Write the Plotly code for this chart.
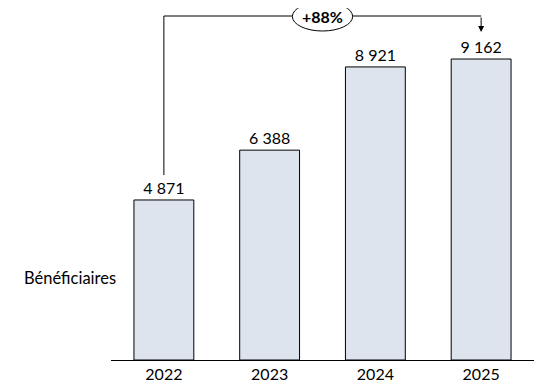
import plotly.graph_objects as go

years = ["2022", "2023", "2024", "2025"]
beneficiaires = [4871, 6388, 8921, 9162]
series_name = "Bénéficiaires"

FONT = "Lato"
PLOT_H = 352
ymax = 10715
fill = "#DDE4EE"

labels = [f"{v:,}".replace(",", " ") for v in beneficiaires]
growth = round((beneficiaires[-1] / beneficiaires[0] - 1) * 100)

def py(px):  # plot-area pixel from top -> data y
    return ymax * (1 - px / PLOT_H)

fig = go.Figure()
fig.add_trace(go.Bar(
    x=list(range(len(years))), y=beneficiaires,
    marker=dict(color=fill, line=dict(color="#000000", width=1)),
    width=0.566,
    text=labels, textposition="outside", cliponaxis=False,
    textfont=dict(family=FONT, size=16, color="#000000"),
    hoverinfo="skip",
))

top_y = py(8)
left_bottom = beneficiaires[0] + 760
tip_y = beneficiaires[-1] + 820
x_first, x_last = 0, len(years) - 1

fig.add_shape(type="line", x0=x_first, x1=x_first, y0=left_bottom, y1=top_y,
              xref="x", yref="y", line=dict(color="#000", width=1))
fig.add_shape(type="line", x0=x_first, x1=x_last, y0=top_y, y1=top_y,
              xref="x", yref="y", line=dict(color="#000", width=1))
fig.add_annotation(x=x_last, y=tip_y, ax=x_last, ay=top_y, xref="x", yref="y",
                   axref="x", ayref="y", text="", showarrow=True,
                   arrowhead=2, arrowsize=1.2, arrowwidth=1, arrowcolor="#000",
                   standoff=0, startstandoff=0)

mid = (len(years) - 1) / 2
fig.add_shape(type="circle", x0=mid - 0.285, x1=mid + 0.285,
              y0=py(23), y1=py(-6),
              xref="x", yref="y", line=dict(color="#000", width=1),
              fillcolor="#FFFFFF")
fig.add_annotation(x=mid, y=top_y, xref="x", yref="y", text=f"<b>+{growth}%</b>",
                   showarrow=False, font=dict(family=FONT, size=16, color="#000"))

fig.add_annotation(x=(62 - 103) / 423, y=(352 - 270) / 352, xref="paper", yref="paper",
                   text=series_name, showarrow=False, xanchor="center", yanchor="middle",
                   font=dict(family=FONT, size=16.5, color="#000"))

fig.update_layout(
    width=541, height=383,
    margin=dict(l=103, r=15, t=0, b=31, autoexpand=False),
    paper_bgcolor="#FFFFFF", plot_bgcolor="#FFFFFF",
    showlegend=False,
    xaxis=dict(range=[-0.5, len(years) - 0.5], tickmode="array",
               tickvals=list(range(len(years))), ticktext=years,
               showline=True, linecolor="#000", linewidth=1, showgrid=False,
               zeroline=False, ticks="", tickfont=dict(family=FONT, size=16, color="#000")),
    yaxis=dict(range=[0, ymax], visible=False, showgrid=False, zeroline=False),
)

fig.write_html("out.html")
